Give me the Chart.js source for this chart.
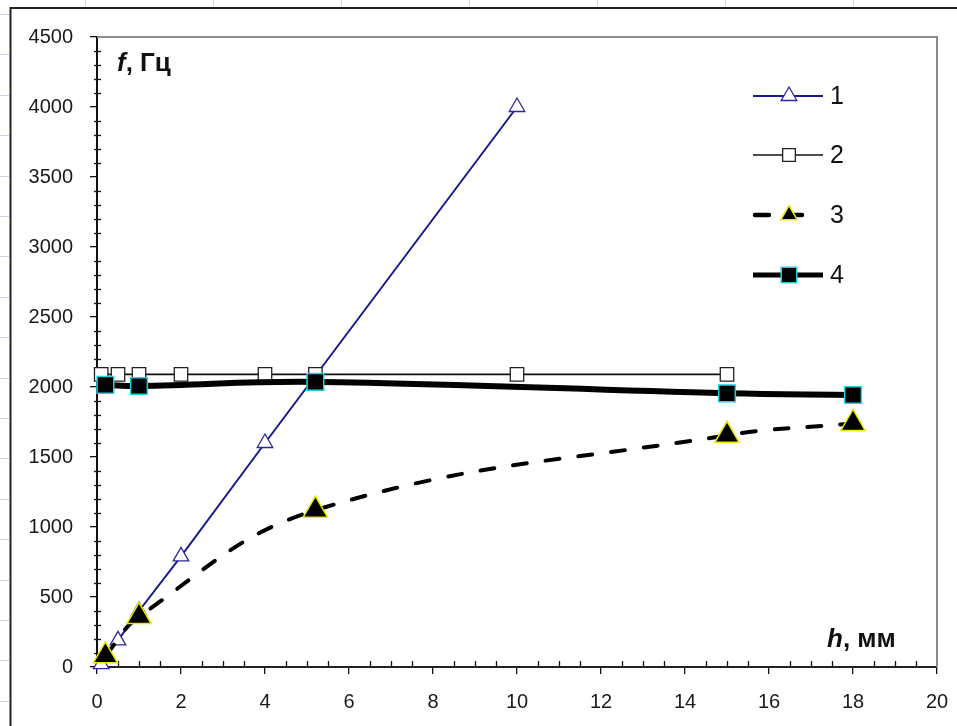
<!DOCTYPE html>
<html>
<head>
<meta charset="utf-8">
<script src="https://cdn.jsdelivr.net/npm/chart.js@4.4.1/dist/chart.umd.min.js"></script>
<style>
  html, body { margin: 0; padding: 0; background: #fff; }
  #wrap { width: 957px; height: 726px; }
</style>
</head>
<body>
<div id="wrap"><canvas id="freqChart" width="957" height="726"></canvas></div>
<script>
// h, мм  /  f, Гц
const seriesNames = ['1', '2', '3', '4'];

const h1 = [0.1, 0.5, 1, 2, 4, 10];
const f1 = [20, 190, 400, 790, 1600, 4000];

const h2 = [0.1, 0.5, 1, 2, 4, 5.2, 10, 15];
const f2 = [2090, 2090, 2090, 2090, 2090, 2090, 2090, 2090];

const h3 = [0.2, 1, 5.2, 15, 18];
const f3 = [80, 360, 1120, 1655, 1740];

const h4 = [0.2, 1, 5.2, 15, 18];
const f4 = [2015, 2007, 2036, 1955, 1943];

const xTicks = [0, 2, 4, 6, 8, 10, 12, 14, 16, 18, 20];
const yTicks = [0, 500, 1000, 1500, 2000, 2500, 3000, 3500, 4000, 4500];

function pts(xs, ys) {
    return xs.map(function (x, i) { return { x: x, y: ys[i] }; });
}

const FONT = '"Liberation Sans", Arial, sans-serif';

// sheet cells, frame, plot border, minor ticks, titles and legend
const decor = {
    id: 'decor',
    beforeDraw: function (chart) {
        const ctx = chart.ctx;
        ctx.save();
        ctx.fillStyle = '#fff';
        ctx.fillRect(0, 0, chart.width, chart.height);
        ctx.strokeStyle = '#cdd4ea';
        ctx.lineWidth = 1;
        for (let y = 14; y < chart.height; y += 40.4) {
            ctx.beginPath();
            ctx.moveTo(0, Math.round(y) + 0.5);
            ctx.lineTo(9, Math.round(y) + 0.5);
            ctx.stroke();
        }
        for (let x = 85; x < chart.width; x += 128) {
            ctx.beginPath();
            ctx.moveTo(x + 0.5, 0);
            ctx.lineTo(x + 0.5, 6);
            ctx.stroke();
        }
        ctx.strokeStyle = '#222';
        ctx.lineWidth = 2;
        ctx.beginPath();
        ctx.moveTo(10.5, chart.height);
        ctx.lineTo(10.5, 8);
        ctx.lineTo(chart.width, 8);
        ctx.stroke();
        ctx.restore();
    },
    beforeDatasetsDraw: function (chart) {
        const ctx = chart.ctx;
        const a = chart.chartArea;
        const xs = chart.scales.x, ys = chart.scales.y;
        ctx.save();
        ctx.strokeStyle = '#8c8c8c';
        ctx.lineWidth = 2;
        ctx.beginPath();
        ctx.moveTo(a.left, a.top);
        ctx.lineTo(a.right, a.top);
        ctx.lineTo(a.right, a.bottom);
        ctx.stroke();

        ctx.strokeStyle = '#111';
        ctx.lineWidth = 1.3;
        for (let v = 100; v < 4500; v += 100) {
            if (v % 500 === 0) continue;
            const y = Math.round(ys.getPixelForValue(v)) + 0.5;
            ctx.beginPath();
            ctx.moveTo(a.left - 3, y);
            ctx.lineTo(a.left + 4, y);
            ctx.stroke();
        }
        for (let v = 0.5; v < 20; v += 0.5) {
            if (v % 2 === 0) continue;
            const x = Math.round(xs.getPixelForValue(v)) + 0.5;
            ctx.beginPath();
            ctx.moveTo(x, a.bottom - 6);
            ctx.lineTo(x, a.bottom);
            ctx.stroke();
        }
        ctx.restore();
    },
    afterDraw: function (chart) {
        const ctx = chart.ctx;
        ctx.save();
        ctx.fillStyle = '#111';
        ctx.textBaseline = 'alphabetic';
        ctx.textAlign = 'left';
        // axis titles
        drawTitle(ctx, 'f', ', Гц', 117, 71);
        drawTitle(ctx, 'h', ', мм', 827, 647);

        // legend
        const rows = [96, 155, 215, 275];
        const radii = [9, 9, 9.5, 11];
        chart.data.datasets.forEach(function (ds, i) {
            const y = rows[i];
            ctx.save();
            ctx.strokeStyle = ds.borderColor;
            ctx.lineWidth = ds.legendLineWidth;
            ctx.lineCap = ds.borderCapStyle || 'butt';
            ctx.setLineDash(ds.borderDash || []);
            ctx.beginPath();
            ctx.moveTo(ds.borderDash ? 755 : 753, y);
            ctx.lineTo(ds.borderDash ? 806 : 823, y);
            ctx.stroke();
            ctx.setLineDash([]);
            ctx.fillStyle = ds.pointBackgroundColor;
            ctx.strokeStyle = ds.pointBorderColor;
            ctx.lineWidth = ds.pointBorderWidth;
            Chart.helpers.drawPoint(ctx, {
                pointStyle: ds.pointStyle,
                radius: radii[i],
                rotation: 0,
                borderWidth: ds.pointBorderWidth
            }, 789, y);
            ctx.restore();
            ctx.fillStyle = '#111';
            ctx.font = '25px ' + FONT;
            ctx.textBaseline = 'middle';
            ctx.fillText(ds.label, 830, y + 1);
        });
        ctx.restore();
    }
};

function drawTitle(ctx, sym, rest, x, y) {
    ctx.font = 'italic bold 26px ' + FONT;
    ctx.fillText(sym, x, y);
    const w = ctx.measureText(sym).width;
    ctx.font = 'bold 26px ' + FONT;
    ctx.fillText(rest, x + w, y);
}

function plain(v) { return String(v); }

new Chart(document.getElementById('freqChart').getContext('2d'), {
    type: 'line',
    data: {
        datasets: [{
            label: seriesNames[0],
            data: pts(h1, f1),
            borderColor: '#1a1a8f',
            borderWidth: 2,
            legendLineWidth: 2,
            pointStyle: 'triangle',
            pointRadius: 9,
            pointBackgroundColor: '#fff',
            pointBorderColor: '#2a2a9a',
            pointBorderWidth: 1.3,
            tension: 0,
            clip: false,
            order: 4
        }, {
            label: seriesNames[1],
            data: pts(h2, f2),
            borderColor: '#111',
            borderWidth: 1.6,
            legendLineWidth: 1.6,
            pointStyle: 'rect',
            pointRadius: 9.5,
            pointBackgroundColor: '#fff',
            pointBorderColor: '#222',
            pointBorderWidth: 1.3,
            tension: 0,
            clip: false,
            order: 3
        }, {
            label: seriesNames[2],
            data: pts(h3, f3),
            borderColor: '#000',
            borderWidth: 4,
            legendLineWidth: 4.5,
            borderDash: [14, 19],
            borderCapStyle: 'round',
            pointStyle: 'triangle',
            pointRadius: 14,
            pointBackgroundColor: '#000',
            pointBorderColor: '#e8e800',
            pointBorderWidth: 1.5,
            tension: 0.4,
            clip: false,
            order: 1
        }, {
            label: seriesNames[3],
            data: pts(h4, f4),
            borderColor: '#000',
            borderWidth: 6,
            legendLineWidth: 5,
            pointStyle: 'rect',
            pointRadius: 11.8,
            pointBackgroundColor: '#000',
            pointBorderColor: '#19d6e0',
            pointBorderWidth: 1.5,
            tension: 0.4,
            clip: false,
            order: 2
        }]
    },
    options: {
        responsive: false,
        animation: false,
        events: [],
        layout: { padding: { left: 11, top: 37, right: 20, bottom: 0 } },
        plugins: {
            legend: { display: false },
            tooltip: { enabled: false }
        },
        scales: {
            x: {
                type: 'linear',
                min: 0,
                max: 20,
                afterFit: function (s) { s.height = 59; s.paddingRight = 0; s.paddingLeft = 0; },
                afterBuildTicks: function (s) { s.ticks = xTicks.map(function (v) { return { value: v }; }); },
                border: { color: '#222', width: 2 },
                grid: { drawOnChartArea: false, drawTicks: true, tickLength: 7, color: '#111', lineWidth: 1.3 },
                ticks: { color: '#1a1a1a', padding: 16, maxRotation: 0, callback: plain, font: { family: FONT, size: 20 } }
            },
            y: {
                type: 'linear',
                min: 0,
                max: 4500,
                afterFit: function (s) { s.width = 86; s.paddingTop = 0; s.paddingBottom = 0; },
                afterBuildTicks: function (s) { s.ticks = yTicks.map(function (v) { return { value: v }; }); },
                border: { color: '#111', width: 2 },
                grid: { drawOnChartArea: false, drawTicks: true, tickLength: 7, color: '#111', lineWidth: 1.3 },
                ticks: { color: '#1a1a1a', padding: 17, callback: plain, font: { family: FONT, size: 20 } }
            }
        }
    },
    plugins: [decor]
});
</script>
</body>
</html>
